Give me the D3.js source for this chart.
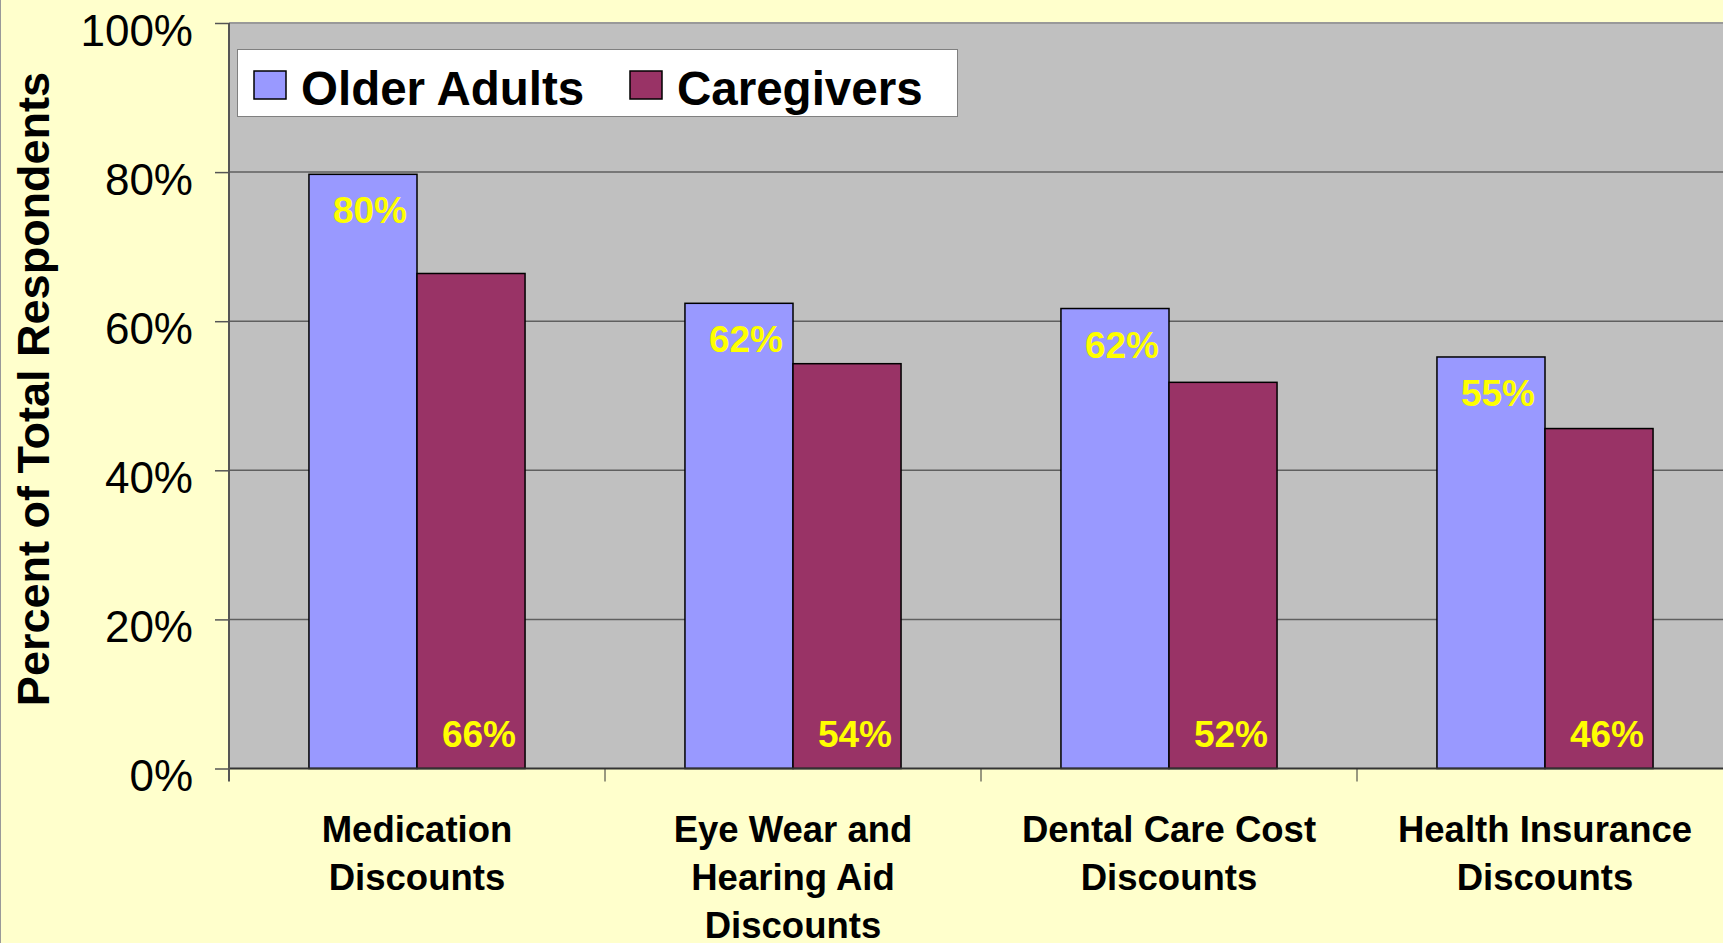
<!DOCTYPE html>
<html>
<head>
<meta charset="utf-8">
<script src="https://cdn.jsdelivr.net/npm/d3@7"></script>
<style>
  body { margin: 0; background: #FFFFCC; }
  svg { display: block; font-family: "Liberation Sans", Arial, sans-serif; }
</style>
</head>
<body>
<svg id="chart" width="1723" height="943"></svg>
<script>
// chart data
var categories = [
  ["Medication", "Discounts"],
  ["Eye Wear and", "Hearing Aid", "Discounts"],
  ["Dental Care Cost", "Discounts"],
  ["Health Insurance", "Discounts"]
];
var seriesNames = ["Older Adults", "Caregivers"];
var olderAdults = [79.7, 62.4, 61.7, 55.2];
var caregivers = [66.4, 54.3, 51.8, 45.6];
var yTicks = [0, 20, 40, 60, 80, 100];
var colors = ["#9999FF", "#993366"];

// layout
var plot = { left: 229, top: 23, bottom: 768.5, step: 376 };

var svg = d3.select("#chart");
svg.append("rect").attr("width", 1723).attr("height", 943).attr("fill", "#FFFFCC");
svg.append("line").attr("x1", 0.5).attr("x2", 0.5).attr("y1", 0).attr("y2", 943)
  .attr("stroke", "#999").attr("stroke-width", 1);

var catIdx = d3.range(categories.length);
var x = d3.scaleBand().domain(catIdx)
  .range([plot.left, plot.left + plot.step * categories.length])
  .paddingInner(0).paddingOuter(0);
var xs = d3.scaleBand().domain([0, 1]).range([0, x.bandwidth()])
  .paddingInner(0).paddingOuter(0.74);
var y = d3.scaleLinear().domain([0, 100]).range([plot.bottom, plot.top]);

// plot background
svg.append("rect")
  .attr("x", plot.left).attr("y", plot.top)
  .attr("width", 1723 - plot.left).attr("height", plot.bottom - plot.top)
  .attr("fill", "#C0C0C0");

// gridlines
svg.selectAll(".grid").data(yTicks.slice(1)).enter().append("line")
  .attr("x1", plot.left).attr("x2", 1723)
  .attr("y1", function(d){ return y(d); }).attr("y2", function(d){ return y(d); })
  .attr("stroke", function(d){ return d == 100 ? "#999" : "#5f5f5f"; })
  .attr("stroke-width", function(d){ return d == 100 ? 2 : 1.5; });

// y axis
var yAxis = d3.axisLeft(y).tickValues(yTicks)
  .tickFormat(function(d){ return d + "%"; })
  .tickSize(14).tickPadding(22);
var ya = svg.append("g").attr("transform", "translate(" + plot.left + ",0)").call(yAxis);
ya.select(".domain").remove();
ya.selectAll(".tick line").attr("stroke", "#555").attr("stroke-width", 1.5);
ya.selectAll(".tick text")
  .attr("font-size", 44).attr("fill", "#000")
  .attr("font-family", "Liberation Sans, Arial, sans-serif")
  .attr("dy", 22);

// bars
var series = [olderAdults, caregivers];
series.forEach(function(vals, s){
  svg.selectAll(".bar" + s).data(vals).enter().append("rect")
    .attr("x", function(d, i){ return x(i) + xs(s); })
    .attr("y", function(d){ return y(d); })
    .attr("width", xs.bandwidth())
    .attr("height", function(d){ return y(0) - y(d); })
    .attr("fill", colors[s])
    .attr("stroke", "#000").attr("stroke-width", 1.5);
});

// data labels
svg.selectAll(".lblA").data(olderAdults).enter().append("text")
  .attr("x", function(d, i){ return x(i) + xs(0) + xs.bandwidth() - 10; })
  .attr("y", function(d){ return y(d) + 49; })
  .attr("text-anchor", "end").attr("font-size", 37).attr("font-weight", "bold")
  .attr("fill", "#FFFF00")
  .text(function(d){ return Math.round(d) + "%"; });
svg.selectAll(".lblC").data(caregivers).enter().append("text")
  .attr("x", function(d, i){ return x(i) + xs(1) + xs.bandwidth() - 9; })
  .attr("y", y(0) - 22)
  .attr("text-anchor", "end").attr("font-size", 37).attr("font-weight", "bold")
  .attr("fill", "#FFFF00")
  .text(function(d){ return Math.round(d) + "%"; });

// x axis line + ticks
svg.append("line").attr("x1", plot.left).attr("x2", 1723)
  .attr("y1", plot.bottom).attr("y2", plot.bottom)
  .attr("stroke", "#333").attr("stroke-width", 2);
svg.append("line").attr("x1", plot.left).attr("x2", plot.left)
  .attr("y1", plot.top).attr("y2", plot.bottom + 13)
  .attr("stroke", "#555").attr("stroke-width", 2);
svg.selectAll(".xtick").data(catIdx.slice(1)).enter().append("line")
  .attr("x1", function(i){ return x(i); }).attr("x2", function(i){ return x(i); })
  .attr("y1", plot.bottom).attr("y2", plot.bottom + 13)
  .attr("stroke", "#333").attr("stroke-width", 1);

// category labels (third line runs off the bottom, same as the source)
var cl = svg.selectAll(".cat").data(categories).enter().append("text")
  .attr("text-anchor", "middle").attr("font-size", 36.5).attr("font-weight", "bold")
  .attr("fill", "#000");
cl.selectAll("tspan").data(function(d, i){ return d.map(function(t){ return { t: t, i: i }; }); })
  .enter().append("tspan")
  .attr("x", function(d){ return x(d.i) + x.bandwidth() / 2; })
  .attr("y", function(d, j){ return 842 + j * 48; })
  .text(function(d){ return d.t; });

// y title
svg.append("text")
  .attr("transform", "translate(49,389) rotate(-90)")
  .attr("text-anchor", "middle").attr("font-size", 45).attr("font-weight", "bold")
  .text("Percent of Total Respondents");

// legend
var lg = svg.append("g");
lg.append("rect").attr("x", 237.5).attr("y", 49.5).attr("width", 720).attr("height", 67)
  .attr("fill", "#fff").attr("stroke", "#808080").attr("stroke-width", 1);
var legX = [254, 630];
seriesNames.forEach(function(name, s){
  lg.append("rect").attr("x", legX[s]).attr("y", 71).attr("width", 32).attr("height", 28)
    .attr("fill", colors[s]).attr("stroke", "#000").attr("stroke-width", 1.5);
  lg.append("text").attr("x", legX[s] + 47).attr("y", 105)
    .attr("font-size", 47.5).attr("font-weight", "bold").text(name);
});
</script>
</body>
</html>
